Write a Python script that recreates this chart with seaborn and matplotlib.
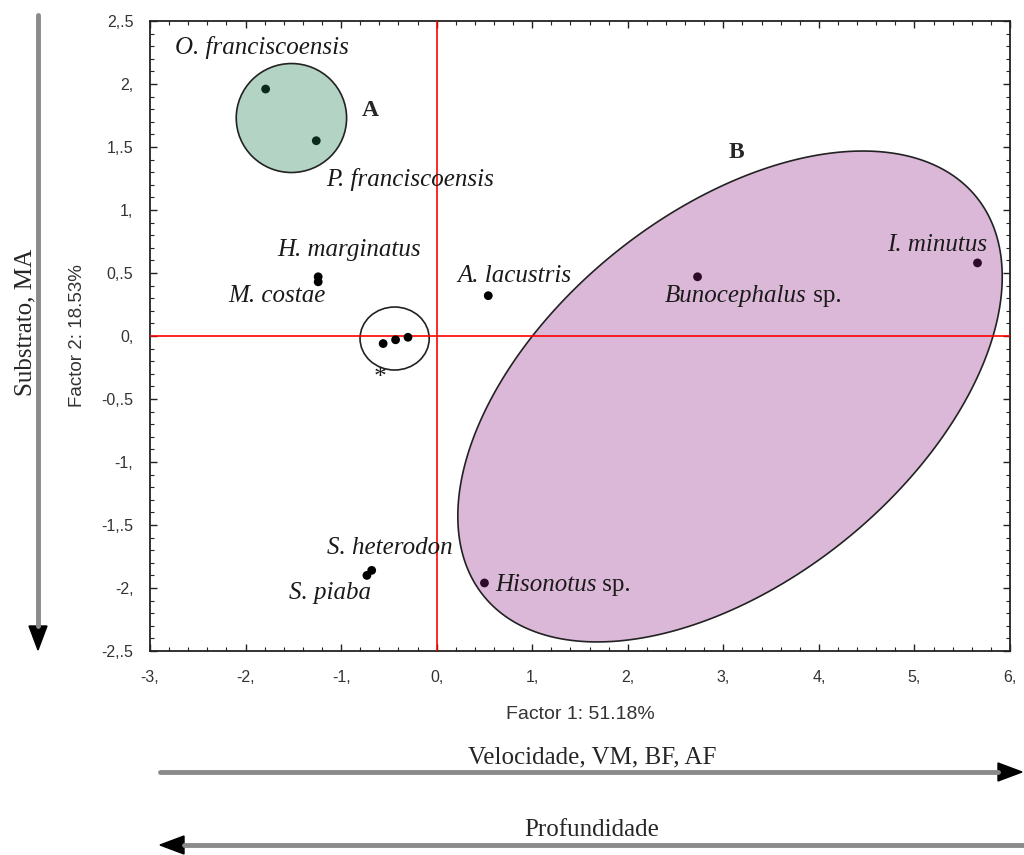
import numpy as np
import seaborn as sns
import matplotlib.pyplot as plt
from matplotlib.patches import Ellipse, Polygon
from matplotlib.lines import Line2D
from matplotlib.ticker import MultipleLocator

# species scores on the first two factors
species = ["O. franciscoensis", "P. franciscoensis", "H. marginatus", "M. costae",
           "A. lacustris", "sp1", "sp2", "sp3", "S. heterodon", "S. piaba",
           "Hisonotus sp.", "Bunocephalus sp.", "I. minutus"]
factor1 = [-1.79, -1.26, -1.24, -1.24, 0.54, -0.56, -0.43, -0.30, -0.68, -0.73, 0.50, 2.73, 5.66]
factor2 = [1.96, 1.55, 0.47, 0.43, 0.32, -0.06, -0.03, -0.01, -1.86, -1.90, -1.96, 0.47, 0.58]
group = ["A", "A", "-", "-", "-", "-", "-", "-", "-", "-", "B", "B", "B"]

# label text (italic part + roman suffix) and where it sits
label_text = ["O. franciscoensis", "P. franciscoensis", "H. marginatus", "M. costae",
              "A. lacustris", "*", "S. heterodon", "S. piaba",
              "Hisonotus", "Bunocephalus", "I. minutus"]
label_suffix = ["", "", "", "", "", "", "", "", " sp.", " sp.", ""]
label_x = [-1.83, -0.28, -0.92, -1.67, 0.81, -0.61, -0.49, -1.12, 0.61, 2.39, 5.24]
label_y = [2.29, 1.24, 0.68, 0.32, 0.48, -0.33, -1.68, -2.04, -1.98, 0.32, 0.72]
label_ha = ["center"] * 8 + ["left", "left", "center"]

xticks = [-3, -2, -1, 0, 1, 2, 3, 4, 5, 6]
xticklabels = ["-3,", "-2,", "-1,", "0,", "1,", "2,", "3,", "4,", "5,", "6,"]
yticks = [2.5, 2, 1.5, 1, 0.5, 0, -0.5, -1, -1.5, -2, -2.5]
yticklabels = ["2,.5", "2,", "1,.5", "1,", "0,.5", "0,", "-0,.5", "-1,", "-1,.5", "-2,", "-2,.5"]

sns.set_theme(style="ticks")
plt.rcParams["font.family"] = ["Liberation Serif", "DejaVu Serif"]

W, H = 1024, 855
fig = plt.figure(figsize=(W / 100, H / 100), dpi=100)
ax = fig.add_axes([150 / W, 1 - 651 / H, 860 / W, 630 / H])

ax.set_xlim(-3, 6)
ax.set_ylim(-2.5, 2.5)

# group ellipses
ax.add_patch(Ellipse((-1.52, 1.73), 1.155, 0.865, fc="#b3d3c4", ec="#222222", lw=1.2, zorder=2))
ax.add_patch(Ellipse((-0.44, -0.02), 0.724, 0.50, fc="none", ec="#222222", lw=1.2, zorder=2))

# big tilted ellipse B, defined in pixels then turned into data units
sx = 860 / 9
sy = 630 / 5
cx, cy, a, b, th = 3.07, -0.48, 317, 184, np.radians(39)
t = np.linspace(0, 2 * np.pi, 300)
ex = cx + (a * np.cos(t) * np.cos(th) - b * np.sin(t) * np.sin(th)) / sx
ey = cy + (a * np.cos(t) * np.sin(th) + b * np.sin(t) * np.cos(th)) / sy
ax.add_patch(Polygon(np.column_stack([ex, ey]), closed=True, fc="#dcb8d8", ec="#222222", lw=1.2, zorder=2))

ax.axvline(0, color="red", lw=1.2, zorder=3)
ax.axhline(0, color="red", lw=1.2, zorder=3)

sns.scatterplot(x=factor1, y=factor2, hue=group,
                palette={"A": "#0c2a1c", "B": "#2e0a28", "-": "black"},
                s=40, linewidth=0, legend=False, ax=ax, zorder=5)

for txt, suf, lx, ly, ha in zip(label_text, label_suffix, label_x, label_y, label_ha):
    t_it = ax.text(lx, ly, txt, ha=ha, va="center", fontsize=18, style="italic",
                   color="#1a1a1a", zorder=6)
    if suf:
        ax.annotate(suf, xy=(1, 0.5), xycoords=t_it, ha="left", va="center",
                    fontsize=18, color="#1a1a1a", zorder=6)

ax.text(-0.70, 1.79, "A", fontsize=17, fontweight="bold", ha="center", va="center")
ax.text(3.14, 1.46, "B", fontsize=17, fontweight="bold", ha="center", va="center")

# axes frame and ticks
ax.set_xticks(xticks)
ax.set_xticklabels(xticklabels, family="Liberation Sans", fontsize=11.5, color="#333333")
ax.set_yticks(yticks)
ax.set_yticklabels(yticklabels, family="Liberation Sans", fontsize=11.5, color="#333333")
ax.xaxis.set_minor_locator(MultipleLocator(0.2))
ax.yaxis.set_minor_locator(MultipleLocator(0.1))
ax.tick_params(which="both", direction="in", top=True, right=True, color="#222222")
ax.tick_params(which="major", length=5, width=1)
ax.tick_params(axis="x", which="major", pad=14)
ax.tick_params(axis="y", which="major", pad=12)
ax.tick_params(which="minor", length=3, width=0.8)
for sp in ax.spines.values():
    sp.set_visible(True)
    sp.set_color("#222222")
    sp.set_linewidth(1.3)

ax.set_xlabel("")
ax.set_ylabel("")
fig.text(580 / W, 1 - 714 / H, "Factor 1: 51.18%", family="Liberation Sans", fontsize=14,
         color="#333333", ha="center", va="center")
fig.text(78 / W, 1 - 336 / H, "Factor 2: 18.53%", family="Liberation Sans", fontsize=13.5,
         color="#333333", ha="center", va="center", rotation=90)

# gradient arrows outside the plot
def px(x, y):
    return x / W, 1 - y / H

def arrow(x0, y0, x1, y1, head=24, half=9):
    d = np.array([x1 - x0, y1 - y0], float)
    d /= np.hypot(*d)
    n = np.array([-d[1], d[0]])
    base = np.array([x1, y1]) - d * head
    fig.add_artist(Line2D([x0 / W, base[0] / W], [1 - y0 / H, 1 - base[1] / H],
                          color="#8a8a8a", lw=3.5, transform=fig.transFigure))
    tri = [px(x1, y1), px(*(base + n * half)), px(*(base - n * half))]
    fig.add_artist(Polygon(tri, closed=True, fc="black", ec="black", transform=fig.transFigure))

arrow(38, 15, 38, 650)
arrow(160, 772, 1022, 772)
arrow(1024, 845, 160, 845)

fig.text(25 / W, 1 - 322 / H, "Substrato, MA", fontsize=18, ha="center", va="center", rotation=90)
fig.text(592 / W, 1 - 757 / H, "Velocidade, VM, BF, AF", fontsize=18, ha="center", va="center")
fig.text(592 / W, 1 - 830 / H, "Profundidade", fontsize=18, ha="center", va="center")

fig.savefig("out.png", dpi=100)
